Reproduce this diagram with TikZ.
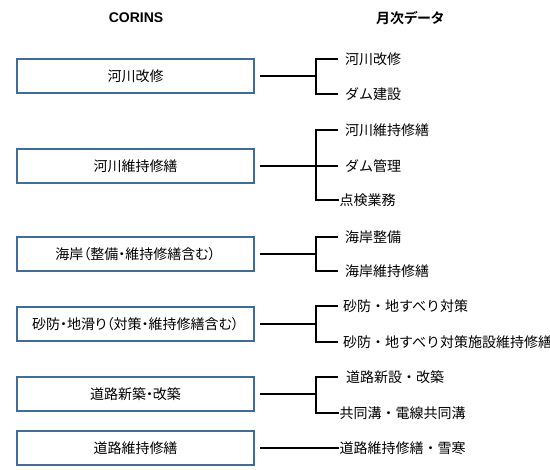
\documentclass[tikz,border=0pt]{standalone}
\usepackage{fontspec}
\setmainfont{Liberation Sans}
\newfontfamily\jp{Noto Sans CJK JP}[RawFeature=+palt, BoldFont={Noto Sans CJK JP Bold}]
\newfontfamily\jpw{Noto Sans CJK JP}
\definecolor{boxblue}{RGB}{65,107,155}
\begin{document}
\begin{tikzpicture}[x=1pt,y=-1pt,
  cbox/.style={draw=boxblue,line width=1.8pt,minimum width=237pt,minimum height=34pt,inner sep=0pt,font=\jp\fontsize{14}{16}\selectfont},
  item/.style={anchor=west,inner xsep=7pt,inner ysep=0pt,font=\jpw\fontsize{14}{16}\selectfont},
  itemnear/.style={anchor=west,inner xsep=0.5pt,inner ysep=0pt,font=\jpw\fontsize{14}{16}\selectfont},
  link/.style={line width=1.3pt,black},
  title/.style={font=\bfseries\fontsize{14}{16}\selectfont}]
\useasboundingbox (0,0) rectangle (550,470);
% titles
\node[title] (t1) at (136,18) {CORINS};
\node[title,font=\jp\bfseries\fontsize{14}{16}\selectfont] (t2) at (410,18) {月次データ};
% boxes
\node[cbox] (b1) at (135.5,76) {河川改修};
\node[cbox] (b2) at (135.5,166) {河川維持修繕};
\node[cbox] (b3) at (135.5,254) {海岸（整備・維持修繕含む）};
\node[cbox] (b4) at (135.5,324) {砂防・地滑り（対策・維持修繕含む）};
\node[cbox] (b5) at (135.5,394) {道路新築・改築};
\node[cbox] (b6) at (135.5,448) {道路維持修繕};
% junctions
\coordinate (j1) at (316,76);
\coordinate (j2) at (316,166);
\coordinate (j3) at (316,254);
\coordinate (j4) at (316,324);
\coordinate (j5) at (316,394);
% right items
\node[item] (r1a) at (338,59) {河川改修};
\node[item] (r1b) at (338,94) {ダム建設};
\node[item] (r2a) at (338,130) {河川維持修繕};
\node[item] (r2b) at (338,166) {ダム管理};
\node[itemnear] (r2c) at (339,200) {点検業務};
\node[item] (r3a) at (338,237) {海岸整備};
\node[item] (r3b) at (338,271) {海岸維持修繕};
\node[item,inner xsep=5pt] (r4a) at (338,306) {砂防・地すべり対策};
\node[item,inner xsep=5pt] (r4b) at (338,342) {砂防・地すべり対策施設維持修繕};
\node[item,inner xsep=8pt] (r5a) at (338,377) {道路新設・改築};
\node[itemnear] (r5b) at (339,413) {共同溝・電線共同溝};
\node[itemnear] (r6) at (339,448) {道路維持修繕・雪寒};
% connectors
\draw[link] ([xshift=5pt]b1.east) -- (j1);
\draw[link] (r1a.west) -| (j1) |- (r1b.west);
\draw[link] ([xshift=5pt]b2.east) -- (j2);
\draw[link] (r2a.west) -| (j2) |- (r2c.west);
\draw[link] (r2b.west) -- (j2);
\draw[link] ([xshift=5pt]b3.east) -- (j3);
\draw[link] (r3a.west) -| (j3) |- (r3b.west);
\draw[link] ([xshift=5pt]b4.east) -- (j4);
\draw[link] (r4a.west) -| (j4) |- (r4b.west);
\draw[link] ([xshift=5pt]b5.east) -- (j5);
\draw[link] (r5a.west) -| (j5) |- (r5b.west);
\draw[link] ([xshift=5pt]b6.east) -- (r6.west);
\end{tikzpicture}
\end{document}
